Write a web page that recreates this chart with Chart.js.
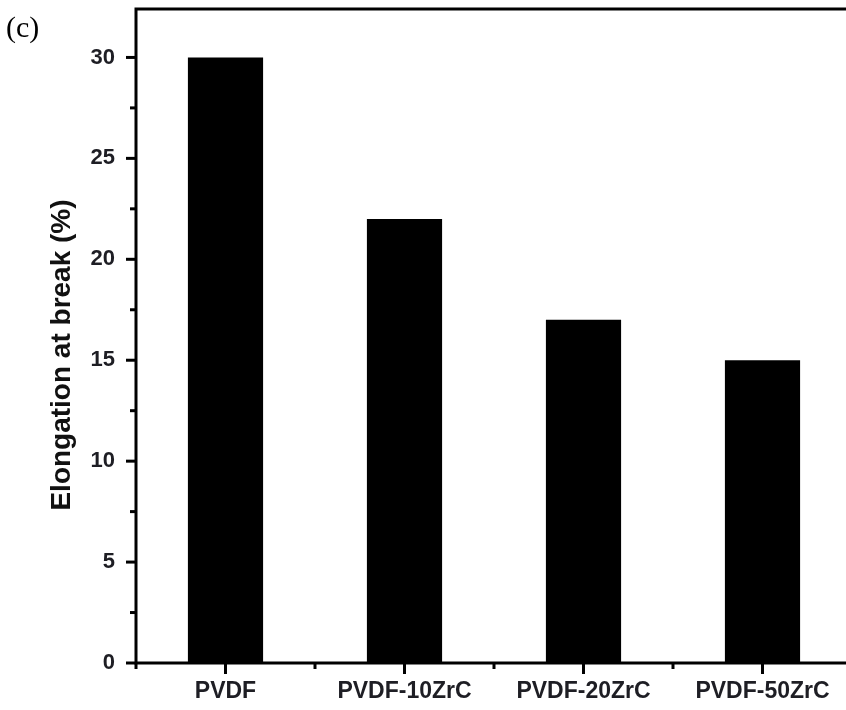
<!DOCTYPE html>
<html>
<head>
<meta charset="utf-8">
<script src="https://cdn.jsdelivr.net/npm/chart.js@4.4.1/dist/chart.umd.min.js"></script>
<style>
    html, body { margin: 0; padding: 0; background: #fff; overflow: hidden; }
    #wrap { position: relative; width: 862px; height: 710px; }
    #panel { position: absolute; left: 6px; top: 10px; font: 30px "Liberation Serif", serif; color: #000; }
</style>
</head>
<body>
<div id="wrap">
    <canvas id="elongChart" width="862" height="710"></canvas>
    <div id="panel">(c)</div>
</div>
<script>
// samples and measured elongation at break (%)
const samples = ['PVDF', 'PVDF-10ZrC', 'PVDF-20ZrC', 'PVDF-50ZrC'];
const elongation = [30, 22, 17, 15];
const yTicks = [0, 5, 10, 15, 20, 25, 30];
const yTitle = 'Elongation at break (%)';

// draws the Origin-style frame: thick axes, top line, major + minor ticks
const frameAxes = {
    id: 'frameAxes',
    afterDraw(chart) {
        const ctx = chart.ctx;
        const area = chart.chartArea;
        const x = chart.scales.x;
        const y = chart.scales.y;
        ctx.save();
        ctx.strokeStyle = '#000';
        ctx.lineWidth = 3;
        ctx.beginPath();
        ctx.moveTo(area.left, area.top);
        ctx.lineTo(area.left, area.bottom);
        ctx.lineTo(area.right, area.bottom);
        ctx.moveTo(area.left - 1.5, area.top);
        ctx.lineTo(area.right, area.top);
        ctx.lineTo(area.right, area.bottom);
        ctx.stroke();

        // y ticks, major every 5, minor halfway
        for (let v = 0; v <= 30; v += 2.5) {
            const py = y.getPixelForValue(v);
            const len = v % 5 === 0 ? 10 : 6;
            ctx.beginPath();
            ctx.moveTo(area.left, py);
            ctx.lineTo(area.left - len, py);
            ctx.stroke();
        }

        // x ticks at categories and between them
        const step = x.getPixelForTick(1) - x.getPixelForTick(0);
        for (let i = 0; i < samples.length; i++) {
            const px = x.getPixelForTick(i);
            ctx.beginPath();
            ctx.moveTo(px, area.bottom);
            ctx.lineTo(px, area.bottom + 11);
            ctx.stroke();
            const bx = px - step / 2;
            ctx.beginPath();
            ctx.moveTo(bx, area.bottom);
            ctx.lineTo(bx, area.bottom + 6);
            ctx.stroke();
        }

        // rotated y title, sitting a bit below the middle of the axis
        ctx.translate(62, (area.top + area.bottom) / 2 + 19);
        ctx.rotate(-Math.PI / 2);
        ctx.fillStyle = '#111';
        ctx.font = 'bold 28px "Liberation Sans"';
        ctx.textAlign = 'center';
        ctx.textBaseline = 'middle';
        ctx.fillText(yTitle, 0, 0);
        ctx.restore();
    }
};

new Chart(document.getElementById('elongChart'), {
    type: 'bar',
    data: {
        labels: samples,
        datasets: [{
            data: elongation,
            backgroundColor: '#000',
            borderWidth: 0,
            categoryPercentage: 1.0,
            barPercentage: 0.42
        }]
    },
    options: {
        responsive: false,
        animation: false,
        layout: { padding: { top: 9, right: 10, left: 0, bottom: 0 } },
        plugins: { legend: { display: false }, tooltip: { enabled: false } },
        scales: {
            x: {
                grid: { display: false, drawTicks: false },
                border: { display: false },
                ticks: {
                    color: '#1e1e24',
                    padding: 15,
                    maxRotation: 0,
                    autoSkip: false,
                    font: { family: 'Liberation Sans', size: 23, weight: 'bold' }
                },
                afterFit(scale) {
                    scale.height = 47;
                    scale.paddingLeft = 0;
                    scale.paddingRight = 0;
                }
            },
            y: {
                min: 0,
                max: 32.4,
                afterBuildTicks(scale) {
                    scale.ticks = yTicks.map(v => ({ value: v }));
                },
                grid: { display: false, drawTicks: false },
                border: { display: false },
                ticks: {
                    color: '#1e1e24',
                    padding: 21,
                    font: { family: 'Liberation Sans', size: 22, weight: 'bold' }
                },
                afterFit(scale) {
                    scale.width = 136;
                    scale.paddingTop = 0;
                    scale.paddingBottom = 0;
                }
            }
        }
    },
    plugins: [frameAxes]
});
</script>
</body>
</html>
